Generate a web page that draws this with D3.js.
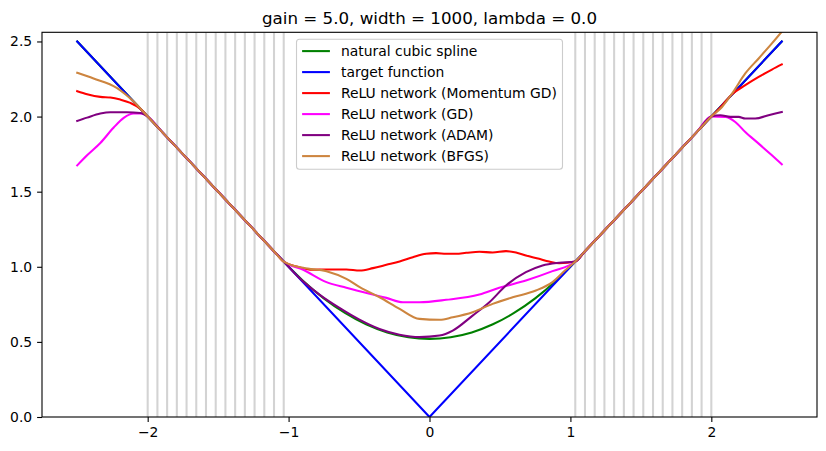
<!DOCTYPE html>
<html>
<head>
<meta charset="utf-8">
<script src="https://cdn.jsdelivr.net/npm/d3@7"></script>
<style>
  body { margin: 0; background: #fff; }
  svg { display: block; font-family: "DejaVu Sans", sans-serif; }
</style>
</head>
<body>
<div id="chart"></div>
<script>
const title = "gain = 5.0, width = 1000, lambda = 0.0";
const xTicks = [-2, -1, 0, 1, 2];
const yTicks = [0.0, 0.5, 1.0, 1.5, 2.0, 2.5];

// training points (vertical grey lines)
const knots = [
  -2.0000, -1.9310, -1.8621, -1.7931, -1.7241, -1.6552, -1.5862, -1.5172,
  -1.4483, -1.3793, -1.3103, -1.2414, -1.1724, -1.1034, -1.0345,
  1.0345, 1.1034, 1.1724, 1.2414, 1.3103, 1.3793, 1.4483, 1.5172,
  1.5862, 1.6552, 1.7241, 1.7931, 1.8621, 1.9310, 2.0000
];

const splineCurve = [
  [-2.5, 2.5], [-2.0, 2.0], [-1.9, 1.9], [-1.5, 1.5], [-1.1, 1.1], [-1.035, 1.035],
  [-0.9, 0.909], [-0.75, 0.79], [-0.6, 0.693], [-0.45, 0.617], [-0.3, 0.563],
  [-0.15, 0.531], [0, 0.52], [0.15, 0.531], [0.3, 0.563], [0.45, 0.617],
  [0.6, 0.693], [0.75, 0.79], [0.9, 0.909], [1.035, 1.035], [1.1, 1.1], [1.5, 1.5],
  [1.9, 1.9], [2.0, 2.0], [2.5, 2.5]
];

const targetCurve = [[-2.5, 2.5], [0, 0], [2.5, 2.5]];

const momentumCurve = [
  [-2.5, 2.169], [-2.43, 2.149], [-2.336, 2.131], [-2.265, 2.127], [-2.194, 2.113],
  [-2.123, 2.091], [-2.053, 2.053], [-2.0, 2.0], [-1.9, 1.9], [-1.5, 1.5], [-1.1, 1.1],
  [-1.035, 1.035], [-0.943, 1.002],
  [-0.826, 0.98], [-0.731, 0.982], [-0.59, 0.982], [-0.495, 0.975], [-0.401, 0.991],
  [-0.306, 1.013], [-0.212, 1.035], [-0.118, 1.064], [-0.024, 1.087], [0.047, 1.091],
  [0.118, 1.087], [0.189, 1.087], [0.26, 1.093], [0.354, 1.1], [0.448, 1.095],
  [0.543, 1.104], [0.614, 1.095], [0.684, 1.075], [0.778, 1.053], [0.849, 1.035],
  [0.92, 1.024], [1.035, 1.035], [1.1, 1.1], [1.5, 1.5], [1.9, 1.9],
  [2.0, 2.0], [2.064, 2.06], [2.147, 2.149],
  [2.241, 2.209], [2.336, 2.264], [2.43, 2.313], [2.5, 2.347]
];

const gdCurve = [
  [-2.5, 1.675], [-2.43, 1.742], [-2.336, 1.824], [-2.241, 1.927], [-2.17, 1.991],
  [-2.1, 2.02], [-2.04, 2.02], [-2.0, 2.0], [-1.9, 1.9], [-1.5, 1.5], [-1.1, 1.1],
  [-1.035, 1.035], [-0.896, 0.98],
  [-0.731, 0.898], [-0.59, 0.86], [-0.425, 0.82], [-0.306, 0.793], [-0.189, 0.764],
  [-0.071, 0.764], [0.118, 0.78], [0.354, 0.815], [0.495, 0.86], [0.684, 0.909],
  [0.873, 0.971], [1.035, 1.035], [1.1, 1.1], [1.5, 1.5], [1.9, 1.9],
  [2.0, 2.0], [2.1, 1.998], [2.17, 1.964],
  [2.241, 1.897], [2.336, 1.82], [2.43, 1.742], [2.5, 1.682]
];

const adamCurve = [
  [-2.5, 1.971], [-2.43, 1.993], [-2.336, 2.02], [-2.265, 2.029], [-2.147, 2.029],
  [-2.053, 2.024], [-2.0, 2.0], [-1.9, 1.9], [-1.5, 1.5], [-1.1, 1.1],
  [-1.035, 1.035], [-0.923, 0.925], [-0.781, 0.815], [-0.639, 0.726],
  [-0.497, 0.648], [-0.355, 0.586], [-0.213, 0.548], [-0.071, 0.532], [0.071, 0.542],
  [0.165, 0.575], [0.306, 0.675], [0.425, 0.764], [0.543, 0.875], [0.684, 0.964],
  [0.802, 1.009], [0.92, 1.027], [1.035, 1.035], [1.1, 1.1], [1.5, 1.5], [1.9, 1.9],
  [2.0, 2.0], [2.064, 2.009],
  [2.135, 1.998], [2.194, 1.998], [2.241, 1.987], [2.312, 1.987], [2.406, 2.009],
  [2.5, 2.031]
];

const bfgsCurve = [
  [-2.5, 2.291], [-2.384, 2.253], [-2.22, 2.191], [-2.1, 2.1], [-2.0, 2.0],
  [-1.9, 1.9], [-1.5, 1.5], [-1.1, 1.1],
  [-1.035, 1.035], [-0.896, 0.993], [-0.731, 0.971], [-0.59, 0.92], [-0.495, 0.864],
  [-0.354, 0.797], [-0.212, 0.72], [-0.071, 0.653], [0.071, 0.647], [0.165, 0.664],
  [0.306, 0.698], [0.448, 0.753], [0.59, 0.797], [0.755, 0.842], [0.873, 0.898],
  [0.967, 0.98], [1.035, 1.035], [1.1, 1.1], [1.5, 1.5], [1.9, 1.9],
  [2.0, 2.0], [2.076, 2.064], [2.147, 2.153],
  [2.241, 2.287], [2.336, 2.387], [2.43, 2.487], [2.5, 2.565]
];

const seriesNames = [
  "natural cubic spline", "target function", "ReLU network (Momentum GD)",
  "ReLU network (GD)", "ReLU network (ADAM)", "ReLU network (BFGS)"
];
const seriesColors = ["green", "blue", "red", "magenta", "purple", "peru"];
const seriesData = [splineCurve, targetCurve, momentumCurve, gdCurve, adamCurve, bfgsCurve];

const width = 826;
const height = 451;
const margin = { top: 32.3, right: 9, bottom: 34, left: 42 };
const fontSize = 13.9;

const svg = d3.select("#chart")
  .append("svg")
  .attr("width", width)
  .attr("height", height);

const x = d3.scaleLinear().domain([-2.75, 2.75]).range([margin.left, width - margin.right]);
const y = d3.scaleLinear().domain([0, 2.561]).range([height - margin.bottom, margin.top]);

svg.append("clipPath").attr("id", "plot-clip")
  .append("rect")
  .attr("x", margin.left).attr("y", margin.top)
  .attr("width", width - margin.left - margin.right)
  .attr("height", height - margin.top - margin.bottom);

const plot = svg.append("g").attr("clip-path", "url(#plot-clip)");

// knot lines
plot.selectAll("line.knot")
  .data(knots)
  .join("line")
  .attr("class", "knot")
  .attr("x1", d => x(d)).attr("x2", d => x(d))
  .attr("y1", margin.top).attr("y2", height - margin.bottom)
  .attr("stroke", "lightgray")
  .attr("stroke-width", 2.08);

const smooth = d3.line().x(d => x(d[0])).y(d => y(d[1])).curve(d3.curveMonotoneX);
const straight = d3.line().x(d => x(d[0])).y(d => y(d[1]));

plot.selectAll("path.series")
  .data(seriesData)
  .join("path")
  .attr("class", "series")
  .attr("d", (d, i) => (i === 1 ? straight(d) : smooth(d)))
  .attr("fill", "none")
  .attr("stroke", (d, i) => seriesColors[i])
  .attr("stroke-width", 2.08)
  .attr("stroke-linejoin", "round")
  .attr("stroke-linecap", "square");

// axes
const fmtX = d => (d < 0 ? "\u2212" + Math.abs(d) : String(d));
const xAxis = svg.append("g")
  .attr("transform", `translate(0,${height - margin.bottom})`)
  .call(d3.axisBottom(x).tickValues(xTicks).tickFormat(fmtX).tickSizeOuter(0).tickSize(4.9).tickPadding(4.9));
const yAxis = svg.append("g")
  .attr("transform", `translate(${margin.left},0)`)
  .call(d3.axisLeft(y).tickValues(yTicks).tickFormat(d3.format(".1f")).tickSizeOuter(0).tickSize(4.9).tickPadding(4.9));

[xAxis, yAxis].forEach(a => {
  a.select(".domain").remove();
  a.selectAll(".tick line").attr("stroke", "#000").attr("stroke-width", 1.1);
  a.selectAll(".tick text")
    .attr("fill", "#000")
    .style("font-size", fontSize + "px")
    .style("font-family", "'DejaVu Sans', sans-serif");
});

svg.append("rect")
  .attr("x", margin.left).attr("y", margin.top)
  .attr("width", width - margin.left - margin.right)
  .attr("height", height - margin.top - margin.bottom)
  .attr("fill", "none")
  .attr("stroke", "#000")
  .attr("stroke-width", 1.1);

svg.append("text")
  .attr("x", (margin.left + width - margin.right) / 2)
  .attr("y", 24)
  .attr("text-anchor", "middle")
  .style("font-size", "16.7px")
  .text(title);

// legend
const legend = svg.append("g");
const legendBox = legend.append("rect")
  .attr("rx", 3).attr("ry", 3)
  .attr("fill", "#fff")
  .attr("fill-opacity", 0.8)
  .attr("stroke", "#cccccc")
  .attr("stroke-width", 1.1);

const rowH = 21;
const legendTop = 39.3;
const rows = legend.selectAll("g.row")
  .data(seriesNames)
  .join("g")
  .attr("class", "row")
  .attr("transform", (d, i) => `translate(0,${legendTop + 11.8 + i * rowH})`);

rows.append("line")
  .attr("x1", 5.6).attr("x2", 5.6 + 27.8)
  .attr("stroke", (d, i) => seriesColors[i])
  .attr("stroke-width", 2.08);

const labels = rows.append("text")
  .attr("x", 5.6 + 27.8 + 11.1)
  .attr("dy", "0.36em")
  .style("font-size", fontSize + "px")
  .text(d => d);

const maxText = d3.max(labels.nodes(), n => n.getComputedTextLength());
const boxW = 5.6 + 27.8 + 11.1 + maxText + 5.6;
const boxH = 130;
legendBox.attr("width", boxW).attr("height", boxH).attr("y", legendTop);
legend.attr("transform", `translate(${(margin.left + width - margin.right) / 2 - boxW / 2},0)`);
</script>
</body>
</html>
